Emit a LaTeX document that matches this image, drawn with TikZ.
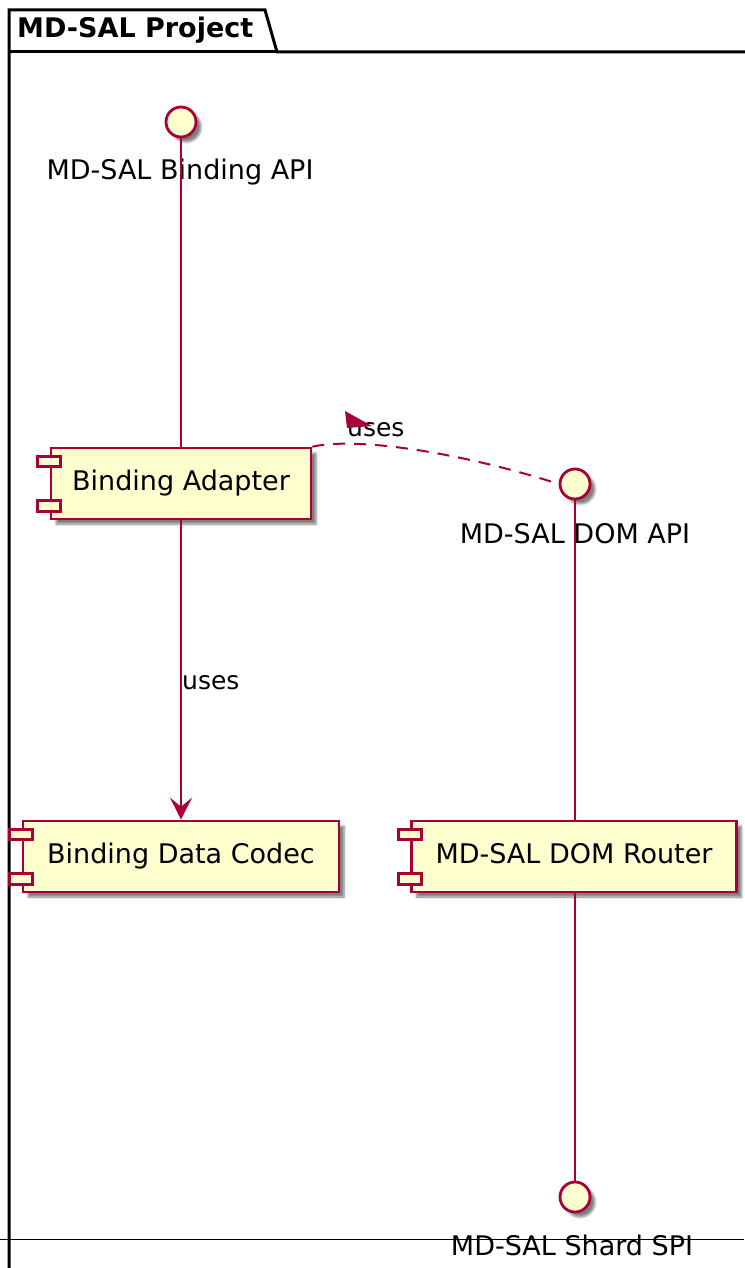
\documentclass[tikz,border=0pt]{standalone}
\usepackage{fontspec}
\setmainfont{DejaVu Sans}
\usetikzlibrary{calc,arrows.meta,shadows.blur}
\definecolor{umlred}{HTML}{A80036}
\definecolor{umlfill}{HTML}{FEFECE}
\begin{document}
\begin{tikzpicture}[x=1pt,y=-1pt,
  umlshadow/.style={blur shadow={shadow xshift=5pt, shadow yshift=-5pt, shadow blur steps=6, shadow opacity=50}},
  comp/.style={draw=umlred, fill=umlfill, line width=2.6pt, minimum height=71pt, inner sep=0pt,
    text height=20pt, text depth=6pt, font=\fontsize{27}{32}\selectfont, umlshadow},
  comptab/.style={draw=umlred, fill=umlfill, line width=2.6pt},
  iface/.style={circle, draw=umlred, fill=umlfill, line width=2.8pt, minimum size=30pt, inner sep=0pt, umlshadow},
  lbl/.style={inner sep=0pt, anchor=base, font=\fontsize{27}{32}\selectfont},
  arrlbl/.style={inner sep=0pt, font=\fontsize{25}{30}\selectfont},
  conn/.style={draw=umlred, line width=2pt},
  frame/.style={draw=black, line width=3pt, line join=miter}
]
\useasboundingbox (0,0) rectangle (744,1268);

% package frame
\coordinate (f0) at (9,1270);
\coordinate (f1) at (9,10);
\coordinate (f2) at (265,10);
\coordinate (f3) at (277,52);
\coordinate (f4) at (746,52);
\coordinate (f5) at (9,52);
\draw[frame] (f0) -- (f1) -- (f2) -- (f3) -- (f4);
\draw[frame] (f5) -- (f3);
\node[inner sep=0pt, anchor=base west, font=\fontsize{27}{32}\selectfont\bfseries] (title) at (17,38) {MD-SAL Project};

% bottom thin line
\coordinate (b0) at (0,1239);
\coordinate (b1) at (744,1239);
\draw[black, line width=1pt] (b0) -- (b1);

% components
\node[comp, minimum width=260pt] (ba) at (181,483.5) {Binding Adapter};
\node[comp, minimum width=316pt] (bdc) at (181,856.5) {Binding Data Codec};
\node[comp, minimum width=325pt] (router) at (574,856.5) {MD-SAL DOM Router};

\foreach \n in {ba,bdc,router}{
  \draw[comptab] ($(\n.north west)+(-12,10)$) rectangle ($(\n.north west)+(11,20)$);
  \draw[comptab] ($(\n.south west)+(-12,-20)$) rectangle ($(\n.south west)+(11,-9)$);
}

% interfaces
\node[iface] (bapi) at (181,122) {};
\node[iface] (domapi) at (575,484) {};
\node[iface] (shard) at (575,1197) {};

\node[lbl] (bapil) at (180,180) {MD-SAL Binding API};
\node[lbl] (domapil) at (575,543) {MD-SAL DOM API};
\node[lbl] (shardl) at (572,1255) {MD-SAL Shard SPI};

% connectors
\draw[conn] (bapi.south) -- (bapi |- ba.north);
\draw[conn, -{Stealth[length=22pt, width=22pt, inset=9pt]}] (ba.south) -- (ba |- bdc.north);
\node[arrlbl, anchor=base west] (uses1) at (182,689) {uses};

\draw[conn] (domapi.south) -- (domapi |- router.north);
\draw[conn] (domapi |- router.south) -- (shard.north);

\draw[conn, dash pattern=on 12pt off 9pt] (ba.north east) .. controls (360,436) and (470,455) .. (domapi.west);
\node[arrlbl, anchor=base west] (uses2) at (347,436) {uses};
\coordinate (t1) at (345,411);
\coordinate (t2) at (347,428);
\coordinate (t3) at (372,426);
\fill[umlred] (t1) -- (t2) -- (t3) -- cycle;
\end{tikzpicture}
\end{document}
